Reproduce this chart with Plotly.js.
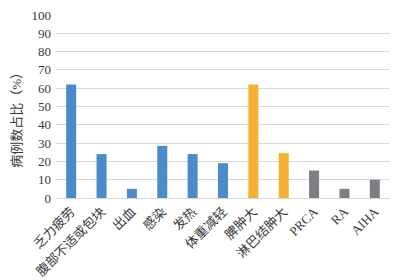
<!DOCTYPE html>
<html>
<head>
<meta charset="utf-8">
<script src="https://cdn.plot.ly/plotly-3.0.1.min.js"></script>
<style>html,body{margin:0;padding:0;background:#fff;}#chart{width:401px;height:280px;}</style>
</head>
<body>
<div id="chart"></div>
<script>
const categories = ["乏力疲劳", "腹部不适或包块", "出血", "感染", "发热", "体重减轻", "脾肿大", "淋巴结肿大", "PRCA", "RA", "AIHA"];
const values = [62, 24, 5, 28.5, 24, 19, 62, 24.5, 15, 5, 10];
const barColors = ["#4a8bca", "#4a8bca", "#4a8bca", "#4a8bca", "#4a8bca", "#4a8bca", "#f4b132", "#f4b132", "#7e7f84", "#7e7f84", "#7e7f84"];
const yTicks = [0, 10, 20, 30, 40, 50, 60, 70, 80, 90, 100];
const yTitle = "病例数占比（%）";

const font = "'Liberation Serif', 'Noto Sans CJK SC', serif";

Plotly.newPlot("chart", [{
  type: "bar",
  x: categories,
  y: values,
  marker: {color: barColors},
  hoverinfo: "none"
}], {
  width: 401,
  height: 280,
  margin: {l: 56, r: 11, t: 15, b: 82},
  paper_bgcolor: "#fff",
  plot_bgcolor: "#fff",
  bargap: 0.67,
  showlegend: false,
  font: {family: font, size: 13, color: "#3a3a3a"},
  xaxis: {
    type: "category",
    tickangle: -45,
    showline: true,
    linecolor: "#d9d9d9",
    linewidth: 1,
    ticks: "",
    showgrid: false,
    tickfont: {family: font, size: 13, color: "#3a3a3a"}
  },
  yaxis: {
    range: [0, 100],
    tickvals: yTicks,
    ticktext: yTicks.map(String),
    showgrid: true,
    gridcolor: "#d9d9d9",
    gridwidth: 1,
    zeroline: false,
    showline: false,
    ticks: "",
    ticklabelstandoff: 4,
    tickfont: {family: font, size: 13, color: "#3a3a3a"}
  },
  annotations: [{
    text: yTitle,
    xref: "paper", yref: "paper",
    x: -0.117, y: 0.443,
    xanchor: "center", yanchor: "middle",
    textangle: -90,
    showarrow: false,
    font: {family: font, size: 13, color: "#3a3a3a"}
  }]
}, {staticPlot: true, displayModeBar: false});
</script>
</body>
</html>
